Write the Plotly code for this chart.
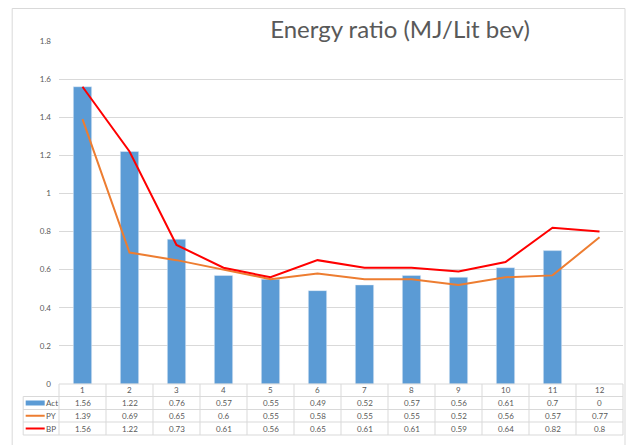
import plotly.graph_objects as go

categories = [1, 2, 3, 4, 5, 6, 7, 8, 9, 10, 11, 12]
act = [1.56, 1.22, 0.76, 0.57, 0.55, 0.49, 0.52, 0.57, 0.56, 0.61, 0.7, 0]
py = [1.39, 0.69, 0.65, 0.6, 0.55, 0.58, 0.55, 0.55, 0.52, 0.56, 0.57, 0.77]
bp = [1.56, 1.22, 0.73, 0.61, 0.56, 0.65, 0.61, 0.61, 0.59, 0.64, 0.82, 0.8]
series_names = ["Act", "PY", "BP"]
title_text = "Energy ratio (MJ/Lit bev)"

W, H = 631, 445
L, R, T, B = 59.3, 623, 41, 384  # plot area in pixels
GRID = "#D9D9D9"
TXT = "#595959"
BLUE = "#5B9BD5"
ORANGE = "#ED7D31"
RED = "#FF0000"
FONT = "Lato"


def px_x(p):
    return (p - L) / (R - L)


def px_y(p):
    return (B - p) / (B - T)


fig = go.Figure()
fig.add_trace(go.Bar(x=categories, y=act, name="Act", marker_color=BLUE, width=0.39))
fig.add_trace(go.Scatter(x=categories, y=py, name="PY", mode="lines",
                         line=dict(color=ORANGE, width=2)))
fig.add_trace(go.Scatter(x=categories, y=bp, name="BP", mode="lines",
                         line=dict(color=RED, width=2)))

shapes = []
annotations = []

# outer chart border
shapes.append(dict(type="rect", xref="paper", yref="paper",
                   x0=px_x(12.5), x1=px_x(625), y0=px_y(450), y1=px_y(8.5),
                   line=dict(color=GRID, width=1)))

# table rows (pixel y boundaries)
row_edges = [384, 396.5, 409.5, 422, 435]
shapes.append(dict(type="line", xref="paper", yref="paper", x0=0, x1=1,
                   y0=px_y(row_edges[0]), y1=px_y(row_edges[0]),
                   line=dict(color=GRID, width=1)))
for e in row_edges[1:]:
    shapes.append(dict(type="line", xref="paper", yref="paper",
                       x0=px_x(23.5), x1=1, y0=px_y(e), y1=px_y(e),
                       line=dict(color=GRID, width=1)))
# vertical lines at category boundaries
for k in range(len(categories) + 1):
    shapes.append(dict(type="line", xref="paper", yref="paper",
                       x0=k / len(categories), x1=k / len(categories),
                       y0=px_y(row_edges[0]), y1=px_y(row_edges[-1]),
                       line=dict(color=GRID, width=1)))
# legend column left border
shapes.append(dict(type="line", xref="paper", yref="paper", x0=px_x(23.5), x1=px_x(23.5),
                   y0=px_y(row_edges[1]), y1=px_y(row_edges[-1]),
                   line=dict(color=GRID, width=1)))

# header row: categories
hdr_y = px_y((row_edges[0] + row_edges[1]) / 2)
for c in categories:
    annotations.append(dict(x=c, y=hdr_y, xref="x", yref="paper", text=str(c),
                            xanchor="center", yanchor="middle",
                            showarrow=False, font=dict(size=8, color=TXT, family=FONT)))

series_vals = [act, py, bp]
colors = [BLUE, ORANGE, RED]
for i, (name, vals, col) in enumerate(zip(series_names, series_vals, colors)):
    yc = px_y((row_edges[i + 1] + row_edges[i + 2]) / 2)
    for c, v in zip(categories, vals):
        annotations.append(dict(x=c, y=yc, xref="x", yref="paper", text=f"{v:g}",
                                xanchor="center", yanchor="middle",
                                showarrow=False, font=dict(size=8, color=TXT, family=FONT)))
    # legend key
    if i == 0:
        shapes.append(dict(type="rect", xref="paper", yref="paper",
                           x0=px_x(26), x1=px_x(45), y0=yc - 2.5 / (B - T), y1=yc + 2.5 / (B - T),
                           fillcolor=col, line=dict(width=0)))
    else:
        shapes.append(dict(type="line", xref="paper", yref="paper",
                           x0=px_x(26), x1=px_x(45), y0=yc, y1=yc,
                           line=dict(color=col, width=2)))
    annotations.append(dict(x=px_x(44.5), y=yc, xref="paper", yref="paper", text=name,
                            xanchor="left", yanchor="middle", showarrow=False,
                            font=dict(size=8, color=TXT, family=FONT)))

fig.update_layout(
    width=W, height=H,
    margin=dict(l=L, r=W - R, t=T, b=H - B, pad=0),
    paper_bgcolor="white", plot_bgcolor="white",
    showlegend=False,
    font=dict(family=FONT, color=TXT),
    title=dict(text=title_text, x=400 / W, xanchor="center", y=1 - 30 / H, yanchor="middle",
               font=dict(size=24, color=TXT, family=FONT)),
    xaxis=dict(range=[0.5, 12.5], showticklabels=False, showgrid=False, zeroline=False,
               showline=False, ticks=""),
    yaxis=dict(range=[0, 1.8], dtick=0.2, tickformat="~g", showgrid=True, gridcolor=GRID,
               gridwidth=1, zeroline=False, showline=False, ticks="",
               ticklabelstandoff=7, tickfont=dict(size=8, color=TXT, family=FONT)),
    shapes=shapes,
    annotations=annotations,
)

fig.write_html("out.html", config={"displayModeBar": False},
               post_script="document.body.style.margin='0';")
